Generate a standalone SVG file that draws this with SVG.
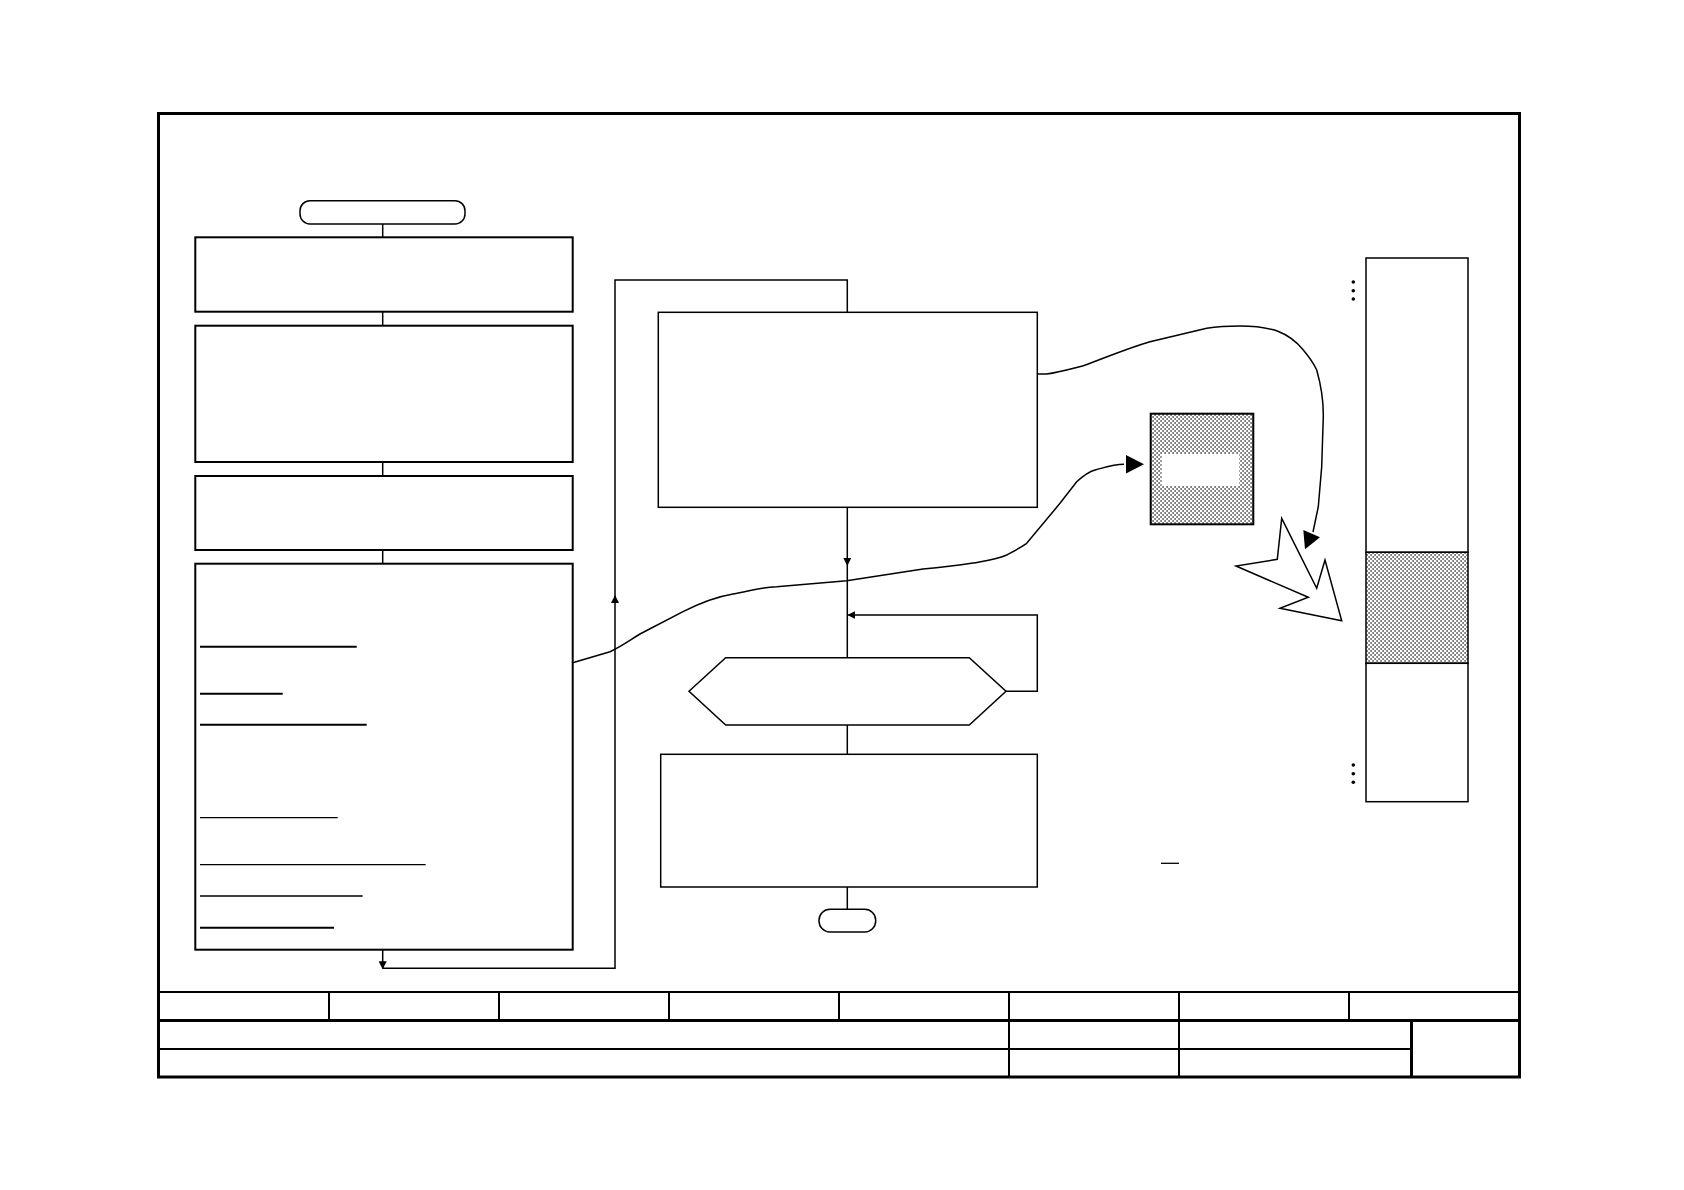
<svg xmlns="http://www.w3.org/2000/svg" width="1684" height="1190" viewBox="0 0 1684 1190">
<style>
.b{fill:#fff;stroke:#000;stroke-width:2}
.t{fill:#fff;stroke:#000;stroke-width:1.5}
.c{fill:none;stroke:#000;stroke-width:1.5}
.u{stroke:#000;stroke-width:2}
.u1{stroke:#000;stroke-width:1.3}
.f{fill:none;stroke:#000;stroke-width:3}
.g{fill:none;stroke:#000;stroke-width:2}
</style>
<defs>
<pattern id="dots" width="4" height="4" patternUnits="userSpaceOnUse">
<rect width="4" height="4" fill="#fff"/>
<rect x="0.3" y="0.3" width="1.6" height="1.4" fill="#333"/>
<rect x="2.3" y="2.3" width="1.6" height="1.4" fill="#333"/>
</pattern>
<marker id="a" markerWidth="8" markerHeight="8" refX="7" refY="4" orient="auto" markerUnits="userSpaceOnUse">
<path d="M0,0 L8,4 L0,8 Z" fill="#000"/>
</marker>
</defs>
<rect width="1684" height="1190" fill="#fff"/>

<!-- frame and title block -->
<g id="frame">
<rect x="158.5" y="113.5" width="1361" height="963.5" class="f"/>
<line x1="158.5" y1="992" x2="1519.5" y2="992" class="g"/>
<line x1="158.5" y1="1020.5" x2="1519.5" y2="1020.5" class="f"/>
<line x1="158.5" y1="1049" x2="1411.5" y2="1049" class="g"/>
<line x1="329" y1="992" x2="329" y2="1020.5" class="g"/>
<line x1="499" y1="992" x2="499" y2="1020.5" class="g"/>
<line x1="669" y1="992" x2="669" y2="1020.5" class="g"/>
<line x1="839" y1="992" x2="839" y2="1020.5" class="g"/>
<line x1="1349" y1="992" x2="1349" y2="1020.5" class="g"/>
<line x1="1009" y1="992" x2="1009" y2="1077" class="g"/>
<line x1="1179" y1="992" x2="1179" y2="1077" class="g"/>
<line x1="1411.5" y1="1020.5" x2="1411.5" y2="1077" class="f"/>
</g>

<!-- connectors -->
<g id="connectors">
<line x1="382.7" y1="224" x2="382.7" y2="237.3" class="c"/>
<line x1="382.7" y1="311.7" x2="382.7" y2="325.7" class="c"/>
<line x1="382.7" y1="462" x2="382.7" y2="476" class="c"/>
<line x1="382.7" y1="550" x2="382.7" y2="563.7" class="c"/>
<polyline points="382.7,949.7 382.7,968.3" class="c" marker-end="url(#a)"/>
<polyline points="382.7,968.3 615,968.3 615,596" class="c" marker-end="url(#a)"/>
<polyline points="615,598 615,280 847.3,280 847.3,312.3" class="c"/>
<polyline points="847.3,507.3 847.3,565" class="c" marker-end="url(#a)"/>
<line x1="847.3" y1="565" x2="847.3" y2="657.7" class="c"/>
<polyline points="1006,691.3 1037.3,691.3 1037.3,615 848.3,615" class="c" marker-end="url(#a)"/>
<line x1="847.3" y1="725" x2="847.3" y2="754.3" class="c"/>
<line x1="847.3" y1="887" x2="847.3" y2="909.3" class="c"/>
<path d="M572.7,662.7 L610,651.7 C622,646 630,640 640,634 L683,611.7 C700,603 715,597 733,594 C750,591 760,587.5 776.7,586.7 L846.7,580.7 L923,569 C945,567 960,565 973,563 C990,560 998,559 1006.7,555 C1016,550 1020,548 1026.7,543.3 L1060,503.3 L1076.7,481.7 C1083,476 1088,472 1095,470 C1105,467.5 1112,464.5 1124,464.3" class="c"/>
<path d="M1126,455 L1144,464.3 L1126,473.5 Z" fill="#000"/>
<path d="M1037.3,374 L1046.7,374 C1060,372 1070,369 1083.3,365.7 C1105,358 1125,349 1150,341.7 L1206.7,328.3 C1218,326.5 1228,326 1240,326 C1255,326 1266,327.5 1276.7,330.7 C1288,335 1297,342 1303.3,350 C1310,358 1314,364 1316.7,370 C1321,385 1323.5,400 1323.3,416.7 L1321.7,466.7 L1318.3,506.7 L1313,532" class="c"/>
<path d="M1303.3,530 L1320,537.3 L1305,549.3 Z" fill="#000"/>
</g>

<!-- left column -->
<g id="start"><rect x="300" y="200.7" width="165" height="23.3" rx="10" class="t"/></g>
<g id="box1"><rect x="195.3" y="237.3" width="377.4" height="74.4" class="b"/></g>
<g id="box2"><rect x="195.3" y="325.7" width="377.4" height="136.3" class="b"/></g>
<g id="box3"><rect x="195.3" y="476" width="377.4" height="74" class="b"/></g>
<g id="box4">
<rect x="195.3" y="563.7" width="377.4" height="386" class="b"/>
<line x1="200" y1="646.7" x2="356.7" y2="646.7" class="u"/>
<line x1="200" y1="693.7" x2="282.7" y2="693.7" class="u"/>
<line x1="200" y1="724.7" x2="366.7" y2="724.7" class="u"/>
<line x1="200" y1="817.7" x2="337.7" y2="817.7" class="u1"/>
<line x1="200" y1="864.7" x2="425.7" y2="864.7" class="u1"/>
<line x1="200" y1="896" x2="362.7" y2="896" class="u1"/>
<line x1="200" y1="927.7" x2="334" y2="927.7" class="u"/>
</g>

<!-- middle column -->
<g id="box5"><rect x="658.3" y="312.3" width="379" height="195" class="t"/></g>
<g id="decision"><polygon points="689,691.3 725.7,657.7 969.3,657.7 1006,691.3 969.3,725 725.7,725" class="t"/></g>
<g id="box6"><rect x="660.7" y="754.3" width="376.6" height="132.7" class="t"/></g>
<g id="end"><rect x="819" y="909.3" width="56.7" height="22.7" rx="11" class="t"/></g>

<!-- right side -->
<g id="shaded">
<rect x="1150.7" y="413.7" width="102.6" height="110.6" fill="url(#dots)" stroke="#000" stroke-width="2"/>
<rect x="1161.7" y="454" width="77.6" height="32" fill="#fff"/>
</g>
<g id="burst"><polygon points="1281.7,518.3 1316.7,588.3 1325,560 1341.7,620.7 1280,608.3 1308.3,597.3 1236,566 1277.3,559.3" class="t"/></g>
<g id="column">
<rect x="1366" y="258" width="102" height="294.3" class="t"/>
<rect x="1366" y="552.3" width="102" height="111" fill="url(#dots)" stroke="#000" stroke-width="1.5"/>
<rect x="1366" y="663.3" width="102" height="138.4" class="t"/>
<circle cx="1353.3" cy="282" r="1.8"/>
<circle cx="1353.3" cy="290.7" r="1.8"/>
<circle cx="1353.3" cy="299" r="1.8"/>
<circle cx="1353.3" cy="765" r="1.8"/>
<circle cx="1353.3" cy="773.7" r="1.8"/>
<circle cx="1353.3" cy="782.3" r="1.8"/>
</g>
<g id="mark"><line x1="1161" y1="863.3" x2="1179" y2="863.3" class="u1"/></g>
</svg>
